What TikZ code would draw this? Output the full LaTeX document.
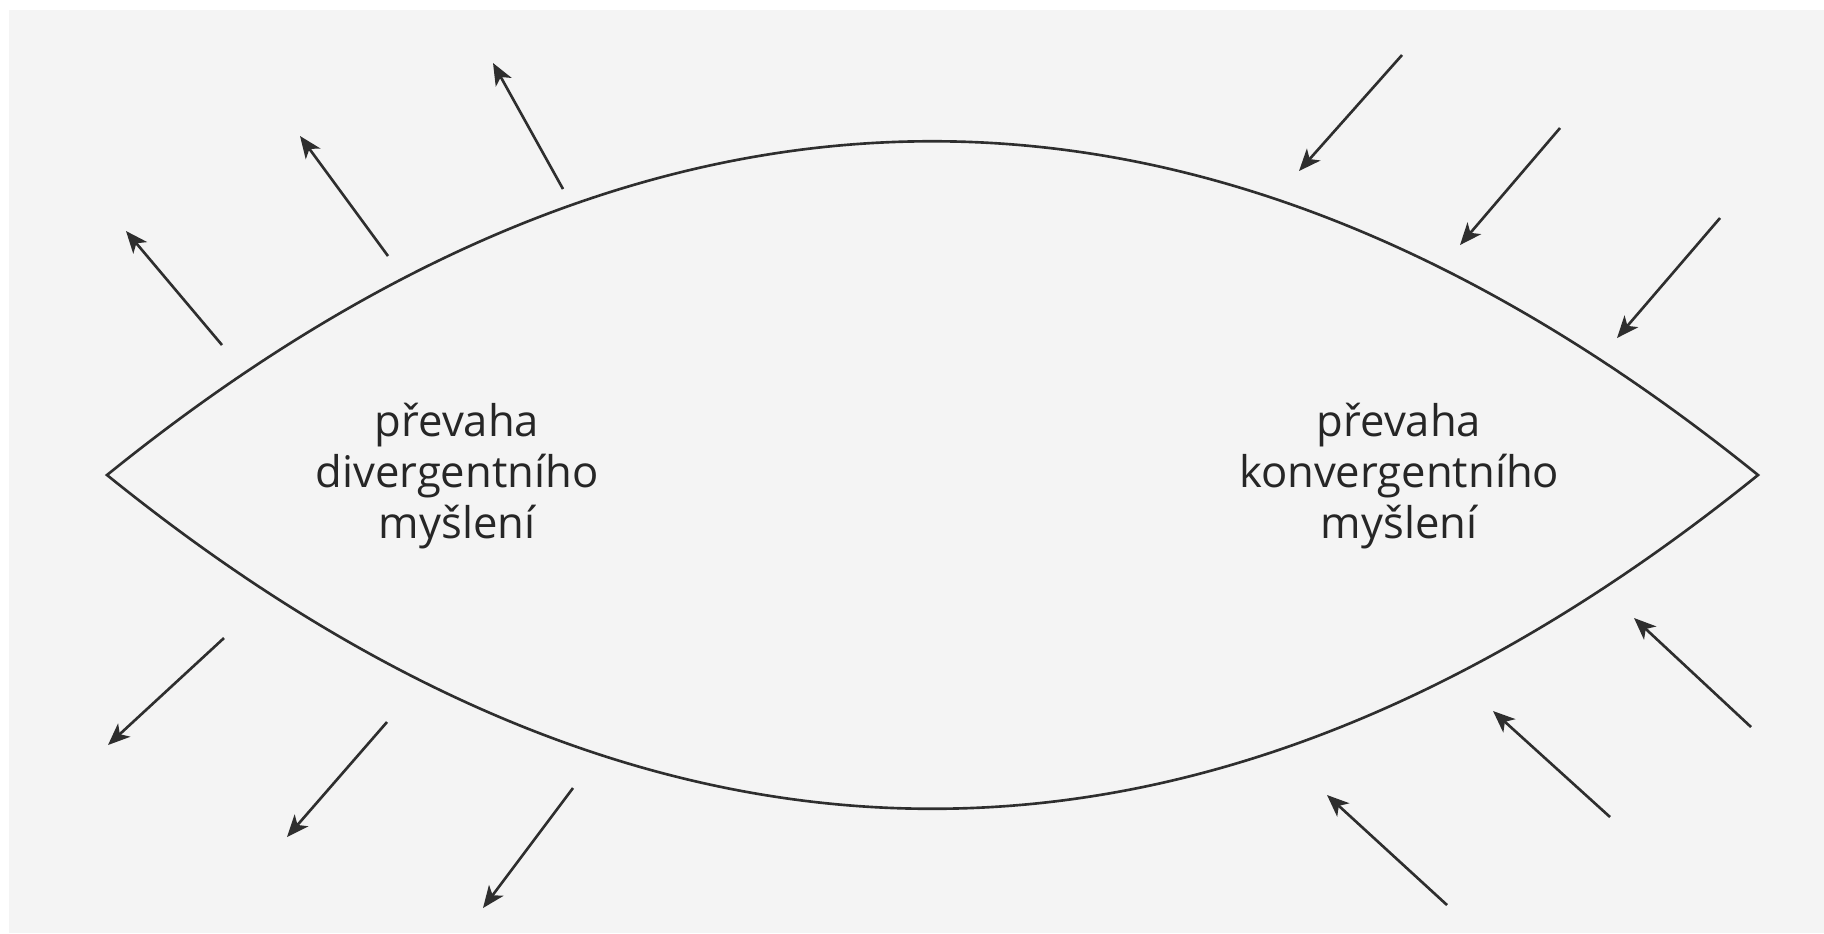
\documentclass[tikz,border=0pt]{standalone}
\usepackage{fontspec}
\setmainfont{Open Sans}
\usepackage{tikz}
\usetikzlibrary{arrows.meta}
\definecolor{paper}{HTML}{F4F4F4}
\definecolor{ink}{HTML}{2E2E2E}

\begin{document}
\begin{tikzpicture}[x=0.1mm, y=-0.1mm,
  lens/.style={draw=ink, line width=0.75pt},
  lbl/.style={align=center, font=\fontsize{12.4}{14.5}\selectfont, text=black!85, inner sep=0pt},
  arr/.style={-{Stealth[length=2.2mm, width=1.8mm, inset=0.6mm]}, ink, line width=0.75pt}
]
  % sheet
  \useasboundingbox (0,0) rectangle (1824,933);
  \fill[white] (0,0) rectangle (1824,933);
  \fill[paper] (9,10) rectangle (1824,933);

  % lens
  \coordinate (tipL) at (107,475);
  \coordinate (tipR) at (1758,475);
  \draw[lens] (tipL) .. controls (657,30) and (1207,30) .. (tipR)
                     .. controls (1207,920) and (657,920) .. (tipL) -- cycle;

  % labels
  \node[lbl] (div) at (457,476) {převaha\\divergentního\\myšlení};
  \node[lbl] (kon) at (1399,476) {převaha\\konvergentního\\myšlení};

  % outgoing arrows
  \draw[arr] (222,345) -- (126,231);
  \draw[arr] (388,256) -- (300,136);
  \draw[arr] (563,189) -- (493,63);
  \draw[arr] (224,638) -- (108,745);
  \draw[arr] (387,722) -- (287,837);
  \draw[arr] (573,788) -- (483,908);

  % incoming arrows
  \draw[arr] (1402,55)  -- (1299,171);
  \draw[arr] (1560,128) -- (1460,245);
  \draw[arr] (1720,218) -- (1617,338);
  \draw[arr] (1447,905) -- (1327,795);
  \draw[arr] (1610,817) -- (1493,711);
  \draw[arr] (1751,727) -- (1634,618);
\end{tikzpicture}
\end{document}
